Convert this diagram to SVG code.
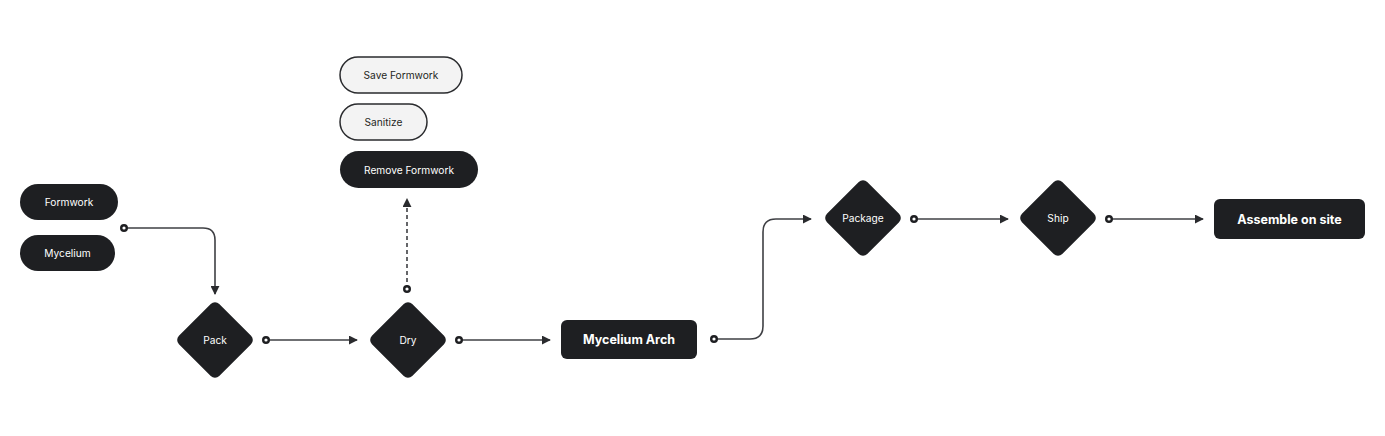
<svg xmlns="http://www.w3.org/2000/svg" width="1385" height="436" viewBox="0 0 1385 436">
<style>
.dark{fill:#1e1f22;}
.light{fill:#f3f3f3;stroke:#2a2b2e;stroke-width:1.5;}
.t{font-family:Inter,"Noto Sans",sans-serif;font-size:10.2px;fill:#ffffff;text-anchor:middle;dominant-baseline:central;}
.td{fill:#1e1f22;}
.tb{font-size:12.5px;font-weight:700;}
.c{fill:none;stroke:#3f4044;stroke-width:1.6;}
.dash{stroke-dasharray:4 3;}
.dot{fill:#ffffff;stroke:#1e1f22;stroke-width:2.4;}
</style>
<defs>
<marker id="arr" viewBox="0 0 10 10" refX="9" refY="5" markerWidth="9" markerHeight="9" markerUnits="userSpaceOnUse" orient="auto">
<path d="M0,0 L10,5 L0,10 z" fill="#2a2b2e"/>
</marker>
</defs>
<rect width="1385" height="436" fill="#ffffff"/>
<g id="connectors">
<path class="c" d="M124,228 H203 Q215,228 215,240 V294" marker-end="url(#arr)"/>
<path class="c" d="M266,340 H357" marker-end="url(#arr)"/>
<path class="c" d="M459,340 H550" marker-end="url(#arr)"/>
<path class="c dash" d="M407,289 V199" marker-end="url(#arr)"/>
<path class="c" d="M714,339 H750 Q763,339 763,326 V232 Q763,219 776,219 H811" marker-end="url(#arr)"/>
<path class="c" d="M914,219 H1008" marker-end="url(#arr)"/>
<path class="c" d="M1109,219 H1203" marker-end="url(#arr)"/>
<circle class="dot" cx="124" cy="228" r="2.8"/>
<circle class="dot" cx="266" cy="340" r="2.8"/>
<circle class="dot" cx="459" cy="340" r="2.8"/>
<circle class="dot" cx="407" cy="289" r="2.8"/>
<circle class="dot" cx="714" cy="339" r="2.8"/>
<circle class="dot" cx="914" cy="219" r="2.8"/>
<circle class="dot" cx="1109" cy="219" r="2.8"/>
</g>
<g id="formwork">
<rect class="dark" x="20" y="184" width="98" height="36" rx="18"/>
<text class="t" x="69" y="202">Formwork</text>
</g>
<g id="mycelium">
<rect class="dark" x="20" y="235" width="95" height="36" rx="18"/>
<text class="t" x="67.5" y="253">Mycelium</text>
</g>
<g id="pack">
<rect class="dark" x="186.5" y="311.5" width="57" height="57" rx="6" transform="rotate(45 215 340)"/>
<text class="t" x="215" y="340">Pack</text>
</g>
<g id="dry">
<rect class="dark" x="379.5" y="311.5" width="57" height="57" rx="6" transform="rotate(45 408 340)"/>
<text class="t" x="408" y="340">Dry</text>
</g>
<g id="save-formwork">
<rect class="light" x="340" y="57" width="122" height="36" rx="18"/>
<text class="t td" x="401" y="75">Save Formwork</text>
</g>
<g id="sanitize">
<rect class="light" x="340" y="104" width="87" height="36" rx="18"/>
<text class="t td" x="383.5" y="122">Sanitize</text>
</g>
<g id="remove-formwork">
<rect class="dark" x="340" y="151" width="138" height="37" rx="18.5"/>
<text class="t" x="409" y="169.5">Remove Formwork</text>
</g>
<g id="mycelium-arch">
<rect class="dark" x="561" y="320" width="136" height="39" rx="6"/>
<text class="t tb" x="629" y="339.5">Mycelium Arch</text>
</g>
<g id="package">
<rect class="dark" x="834.5" y="189.5" width="57" height="57" rx="6" transform="rotate(45 863 218)"/>
<text class="t" x="863" y="218">Package</text>
</g>
<g id="ship">
<rect class="dark" x="1029.5" y="189.5" width="57" height="57" rx="6" transform="rotate(45 1058 218)"/>
<text class="t" x="1058" y="218">Ship</text>
</g>
<g id="assemble">
<rect class="dark" x="1214" y="199" width="151" height="40" rx="6"/>
<text class="t tb" x="1289.5" y="219">Assemble on site</text>
</g>
</svg>
